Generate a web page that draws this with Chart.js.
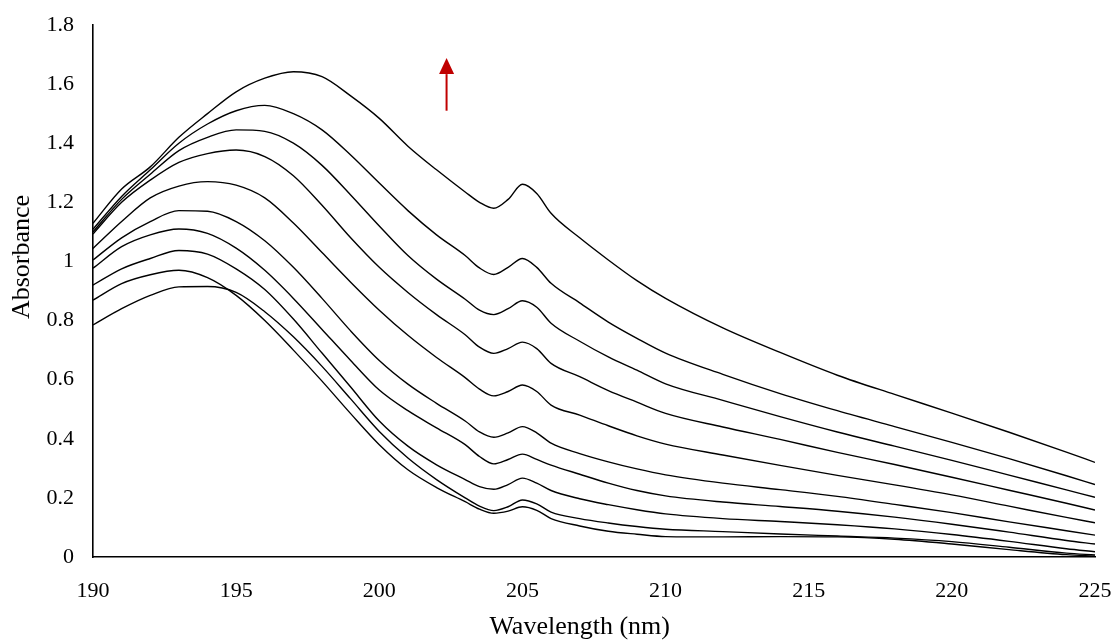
<!DOCTYPE html>
<html>
<head>
<meta charset="utf-8">
<title>Absorbance spectra</title>
<script src="https://cdn.jsdelivr.net/npm/chart.js@4.4.1/dist/chart.umd.min.js"></script>
<style>
  html, body { margin: 0; padding: 0; background: #fff; }
  #wrap { width: 1116px; height: 641px; }
</style>
</head>
<body>
<div id="wrap"><canvas id="myChart" width="1116" height="641"></canvas></div>
<script>
//Wavelengths (nm) the spectra were sampled at
const wavelengths = [190, 191, 192, 193, 194, 195, 196, 197, 198, 199, 200, 201, 202, 203, 203.5, 204, 204.5, 205, 205.5, 206, 207, 208, 209, 210, 212, 214, 216, 218, 220, 222, 224, 225];

//Absorbance of each spectrum, lowest to highest
const abs1 = [0.785, 0.84, 0.885, 0.914, 0.915, 0.895, 0.83, 0.745, 0.645, 0.535, 0.425, 0.335, 0.262, 0.20, 0.172, 0.157, 0.17, 0.193, 0.18, 0.152, 0.13, 0.115, 0.103, 0.094, 0.086, 0.078, 0.071, 0.064, 0.052, 0.033, 0.013, 0.007];
const abs2 = [0.869, 0.925, 0.955, 0.97, 0.945, 0.885, 0.80, 0.70, 0.595, 0.485, 0.38, 0.295, 0.235, 0.187, 0.162, 0.148, 0.155, 0.17, 0.158, 0.13, 0.105, 0.087, 0.077, 0.069, 0.068, 0.069, 0.068, 0.06, 0.044, 0.025, 0.008, 0.003];
const abs3 = [0.92, 0.975, 1.01, 1.037, 1.025, 0.975, 0.905, 0.805, 0.69, 0.575, 0.46, 0.375, 0.312, 0.262, 0.238, 0.229, 0.245, 0.267, 0.25, 0.225, 0.197, 0.177, 0.16, 0.146, 0.13, 0.12, 0.109, 0.095, 0.076, 0.053, 0.028, 0.018];
const abs4 = [0.977, 1.05, 1.09, 1.11, 1.095, 1.045, 0.97, 0.875, 0.77, 0.665, 0.565, 0.495, 0.437, 0.38, 0.34, 0.315, 0.33, 0.348, 0.33, 0.311, 0.28, 0.25, 0.225, 0.207, 0.186, 0.171, 0.155, 0.135, 0.111, 0.084, 0.056, 0.044];
const abs5 = [1.005, 1.08, 1.135, 1.172, 1.17, 1.135, 1.07, 0.98, 0.875, 0.765, 0.665, 0.585, 0.52, 0.46, 0.423, 0.405, 0.42, 0.441, 0.42, 0.385, 0.35, 0.322, 0.298, 0.278, 0.25, 0.228, 0.205, 0.178, 0.15, 0.119, 0.089, 0.074];
const abs6 = [1.044, 1.135, 1.215, 1.255, 1.27, 1.258, 1.215, 1.13, 1.03, 0.93, 0.835, 0.75, 0.675, 0.607, 0.568, 0.545, 0.56, 0.582, 0.56, 0.514, 0.48, 0.444, 0.41, 0.382, 0.345, 0.31, 0.276, 0.244, 0.21, 0.172, 0.134, 0.116];
const abs7 = [1.093, 1.20, 1.275, 1.335, 1.365, 1.377, 1.355, 1.29, 1.19, 1.08, 0.98, 0.895, 0.82, 0.752, 0.71, 0.689, 0.705, 0.727, 0.705, 0.655, 0.61, 0.563, 0.524, 0.486, 0.44, 0.398, 0.354, 0.313, 0.27, 0.226, 0.182, 0.159];
const abs8 = [1.10, 1.21, 1.295, 1.375, 1.42, 1.445, 1.44, 1.40, 1.325, 1.225, 1.12, 1.02, 0.94, 0.872, 0.835, 0.82, 0.84, 0.867, 0.845, 0.791, 0.73, 0.677, 0.632, 0.586, 0.53, 0.475, 0.423, 0.375, 0.327, 0.277, 0.227, 0.202];
const abs9 = [1.109, 1.22, 1.31, 1.40, 1.465, 1.51, 1.528, 1.50, 1.445, 1.36, 1.265, 1.172, 1.09, 1.02, 0.978, 0.956, 0.98, 1.01, 0.98, 0.926, 0.86, 0.795, 0.74, 0.69, 0.618, 0.553, 0.495, 0.441, 0.388, 0.333, 0.275, 0.245];
const abs10 = [1.129, 1.245, 1.32, 1.42, 1.50, 1.574, 1.62, 1.642, 1.625, 1.56, 1.484, 1.39, 1.31, 1.235, 1.20, 1.18, 1.21, 1.261, 1.23, 1.163, 1.08, 1.005, 0.935, 0.875, 0.775, 0.692, 0.615, 0.55, 0.487, 0.422, 0.355, 0.32];

const spectra = [abs1, abs2, abs3, abs4, abs5, abs6, abs7, abs8, abs9, abs10];

//Axis titles
const xTitle = 'Wavelength (nm)';
const yTitle = 'Absorbance';

//Red arrow showing the direction the spectra grow (wavelength, absorbance from -> to)
const arrowAt = 202.35;
const arrowFrom = 1.51;
const arrowTo = 1.688;

const serif = "'Liberation Serif', 'Times New Roman', serif";

//Each spectrum becomes one plain black smoothed line
const datasets = spectra.map((vals, i) => ({
    label: 'Spectrum ' + (i + 1),
    data: vals.map((v, j) => ({ x: wavelengths[j], y: v })),
    borderColor: '#000',
    borderWidth: 1.4,
    fill: false,
    pointRadius: 0,
    cubicInterpolationMode: 'monotone'
}));

//Draws the axis titles and the arrow on top of the chart
const extrasPlugin = {
    id: 'extras',
    afterDraw(chart) {
        const ctx = chart.ctx;
        const xs = chart.scales.x;
        const ys = chart.scales.y;
        ctx.save();

        ctx.fillStyle = '#000';
        ctx.font = '26px ' + serif;
        ctx.textAlign = 'center';
        ctx.textBaseline = 'middle';
        ctx.fillText(xTitle, xs.getPixelForValue(207.0), 627);

        ctx.translate(22, ys.getPixelForValue(1.015));
        ctx.rotate(-Math.PI / 2);
        ctx.fillText(yTitle, 0, 0);
        ctx.setTransform(1, 0, 0, 1, 0, 0);

        //arrow
        const ax = xs.getPixelForValue(arrowAt);
        const y0 = ys.getPixelForValue(arrowFrom);
        const y1 = ys.getPixelForValue(arrowTo);
        const headLen = 16;
        ctx.strokeStyle = '#C00000';
        ctx.fillStyle = '#C00000';
        ctx.lineWidth = 2;
        ctx.beginPath();
        ctx.moveTo(ax, y0);
        ctx.lineTo(ax, y1 + headLen);
        ctx.stroke();
        ctx.beginPath();
        ctx.moveTo(ax, y1);
        ctx.lineTo(ax - 7.5, y1 + headLen);
        ctx.lineTo(ax + 7.5, y1 + headLen);
        ctx.closePath();
        ctx.fill();

        ctx.restore();
    }
};

const ctx = document.getElementById('myChart').getContext('2d');

const myChart = new Chart(ctx, {
    type: 'line',
    data: { datasets: datasets },
    options: {
        responsive: false,
        devicePixelRatio: 1,
        animation: false,
        layout: {
            padding: { top: 25, right: 21, left: 0, bottom: 0 }
        },
        plugins: {
            legend: { display: false },
            tooltip: { enabled: false }
        },
        scales: {
            x: {
                type: 'linear',
                min: 190,
                max: 225,
                grid: { display: false },
                border: { display: true, color: '#000', width: 1.6 },
                ticks: {
                    stepSize: 5,
                    padding: 13,
                    color: '#000',
                    font: { family: serif, size: 22 }
                },
                afterFit(scale) {
                    scale.height = 84;
                    scale.paddingLeft = 0;
                    scale.paddingRight = 0;
                }
            },
            y: {
                min: 0,
                max: 1.8,
                grid: { display: false },
                border: { display: true, color: '#000', width: 1.6 },
                ticks: {
                    stepSize: 0.2,
                    padding: 11,
                    color: '#000',
                    font: { family: serif, size: 22 },
                    callback: (v) => String(+v.toFixed(1))
                },
                afterFit(scale) {
                    scale.width = 93;
                    scale.paddingTop = 0;
                    scale.paddingBottom = 0;
                }
            }
        }
    },
    plugins: [extrasPlugin]
});
</script>
</body>
</html>
